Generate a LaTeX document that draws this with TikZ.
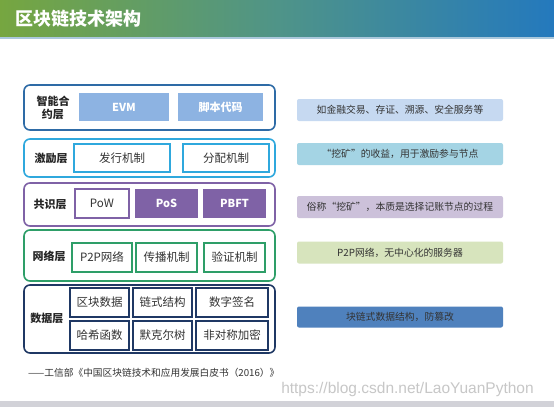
\documentclass[tikz,border=0pt]{standalone}
\usepackage{fontspec}
\setmainfont{Noto Sans CJK SC}
\newfontfamily\wmfont{Liberation Sans}
\definecolor{hdrL}{HTML}{76A640}
\definecolor{hdrM}{HTML}{4F9488}
\definecolor{hdrR}{HTML}{2479BD}
\definecolor{cA}{HTML}{2E6BA6}
\definecolor{cAfill}{HTML}{8DB3E2}
\definecolor{cB}{HTML}{2FA8DD}
\definecolor{cC}{HTML}{7F62A6}
\definecolor{cD}{HTML}{2E9E68}
\definecolor{cE}{HTML}{1F3864}
\definecolor{nA}{HTML}{C6D9F1}
\definecolor{nB}{HTML}{A4D4E4}
\definecolor{nC}{HTML}{CCC1DA}
\definecolor{nD}{HTML}{D7E4BD}
\definecolor{nE}{HTML}{4F81BD}
\definecolor{txt}{HTML}{333333}
\begin{document}
\begin{tikzpicture}[x=1pt,y=-1pt,
  layer/.style={draw, line width=1.6pt, rounded corners=6pt, inner sep=0pt, minimum width=251pt},
  cell/.style={draw, line width=1.3pt, inner sep=0pt, text=txt, font=\fontsize{11.5}{12}\selectfont},
  fcell/.style={inner sep=0pt, text=white, font=\fontsize{11}{12}\selectfont\bfseries},
  lbl/.style={font=\fontsize{11}{13}\selectfont\bfseries, text=black!85, align=center, inner sep=0pt},
  note/.style={rounded corners=2pt, inner sep=0pt, minimum width=206pt, minimum height=22pt, text=black!80, font=\fontsize{9.8}{10}\selectfont}]
\useasboundingbox (0,0) rectangle (554,407);
\fill[white] (0,0) rectangle (554,407);
% header
\shade[left color=hdrL, right color=hdrR, middle color=hdrM] (0,0) rectangle (554,37);
\fill[color={rgb,255:red,170;green,200;blue,220}] (0,37) rectangle (554,39);
\node[anchor=west, text=white, font=\fontsize{18}{20}\selectfont\bfseries, inner sep=0pt] (title) at (15,19) {区块链技术架构};
% layer 1
\node[layer, draw=cA, minimum height=45pt] (L1) at (149.5,107.5) {};
\node[lbl] (L1l) at (53,107.5) {智能合\\约层};
\node[fcell, fill=cAfill, minimum width=90pt, minimum height=28pt] (evm) at (124,107) {EVM};
\node[fcell, fill=cAfill, minimum width=85pt, minimum height=28pt] (jb) at (220.5,107) {脚本代码};
% layer 2
\node[layer, draw=cB, minimum height=38pt] (L2) at (149.5,158) {};
\node[lbl] (L2l) at (51,158) {激励层};
\node[cell, draw=cB, minimum width=96pt, minimum height=28pt] (fx) at (122,158) {发行机制};
\node[cell, draw=cB, minimum width=86pt, minimum height=28pt] (fp) at (226,158) {分配机制};
% layer 3
\node[layer, draw=cC, minimum height=43pt] (L3) at (149.5,204.5) {};
\node[lbl] (L3l) at (50,204) {共识层};
\node[cell, draw=cC, minimum width=54pt, minimum height=29pt] (pow) at (102,203.5) {PoW};
\node[fcell, fill=cC, minimum width=63pt, minimum height=29pt] (pos) at (166.5,203.5) {PoS};
\node[fcell, fill=cC, minimum width=63pt, minimum height=29pt] (pbft) at (234.5,203.5) {PBFT};
% layer 4
\node[layer, draw=cD, minimum height=51pt] (L4) at (149.5,255.5) {};
\node[lbl] (L4l) at (49,256) {网络层};
\node[cell, draw=cD, minimum width=60pt, minimum height=29pt] (p2p) at (102,257.5) {P2P网络};
\node[cell, draw=cD, minimum width=61pt, minimum height=29pt] (cb) at (166.5,257.5) {传播机制};
\node[cell, draw=cD, minimum width=61pt, minimum height=29pt] (yz) at (234.5,257.5) {验证机制};
% layer 5
\node[layer, draw=cE, minimum height=68pt] (L5) at (149.5,319) {};
\node[lbl] (L5l) at (47,318) {数据层};
\node[cell, draw=cE, minimum width=59pt, minimum height=29pt] (d1) at (99.5,302.5) {区块数据};
\node[cell, draw=cE, minimum width=59pt, minimum height=29pt] (d2) at (162.5,302.5) {链式结构};
\node[cell, draw=cE, minimum width=72pt, minimum height=29pt] (d3) at (232,302.5) {数字签名};
\node[cell, draw=cE, minimum width=59pt, minimum height=29pt] (d4) at (99.5,335.5) {哈希函数};
\node[cell, draw=cE, minimum width=59pt, minimum height=29pt] (d5) at (162.5,335.5) {默克尔树};
\node[cell, draw=cE, minimum width=72pt, minimum height=29pt] (d6) at (232,335.5) {非对称加密};
% notes
\node[note, fill=nA] (n1) at (400,110) {如金融交易、存证、溯源、安全服务等};
\node[note, fill=nB] (n2) at (400,154) {“挖矿”的收益，用于激励参与节点};
\node[note, fill=nC] (n3) at (400,207) {俗称“挖矿”，本质是选择记账节点的过程};
\node[note, fill=nD] (n4) at (400,252.5) {P2P网络，无中心化的服务器};
\node[note, fill=nE, minimum height=21pt] (n5) at (400,317) {块链式数据结构，防篡改};
% footer
\node[anchor=west, inner sep=0pt, text=txt, font=\fontsize{9.7}{10}\selectfont] (src) at (28,373) {——工信部《中国区块链技术和应用发展白皮书（2016）》};
\node[inner sep=0pt, text=black!22, font=\wmfont\fontsize{15.5}{17}\selectfont] (wm) at (407.5,389) {https://blog.csdn.net/LaoYuanPython};
\fill[color={rgb,255:red,210;green,210;blue,216}] (0,401) rectangle (554,407);
\end{tikzpicture}
\end{document}
